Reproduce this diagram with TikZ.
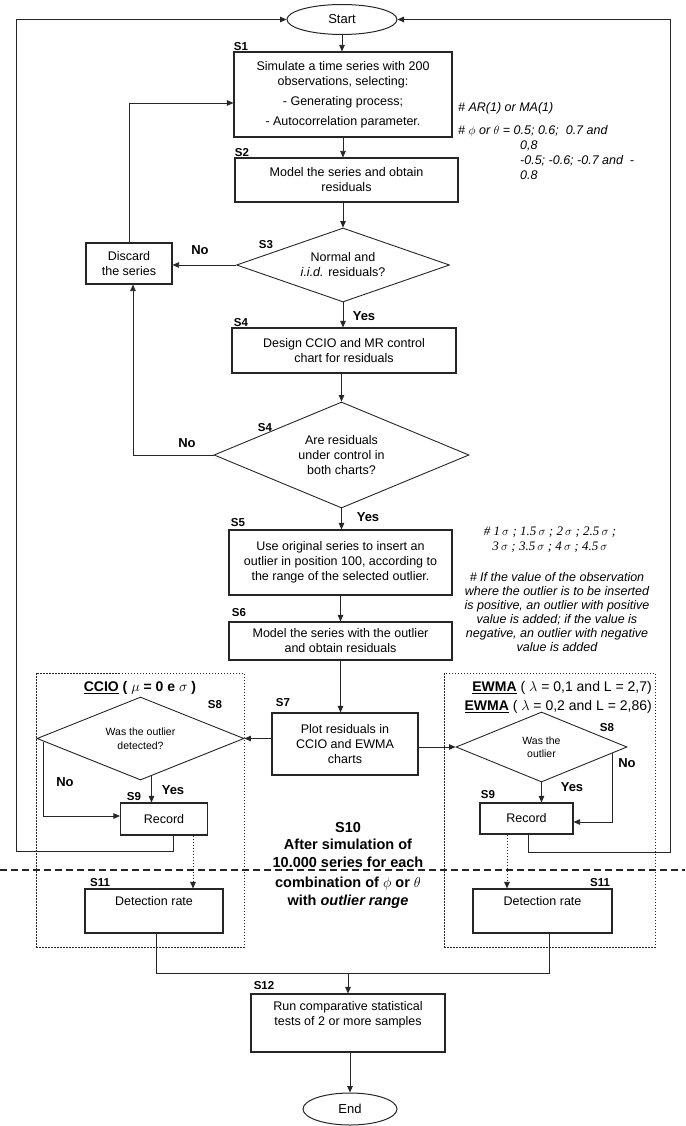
\documentclass[tikz,border=0pt]{standalone}
\usepackage{fontspec}
\setmainfont{Liberation Sans}
\newfontfamily\serifit{Liberation Serif}
\usetikzlibrary{shapes.geometric,arrows.meta}

\tikzstyle{stepbox}=[draw=black!85,line width=1.1pt,rectangle,inner sep=0pt,align=center,font=\fontsize{12.5}{15}\selectfont]
\tikzstyle{decision}=[draw=black!85,line width=0.9pt,diamond,inner sep=0pt,align=center,font=\fontsize{12.5}{15}\selectfont]
\tikzstyle{smalldecision}=[decision,font=\fontsize{10.5}{13.5}\selectfont]
\tikzstyle{terminal}=[draw=black!85,line width=1pt,ellipse,inner sep=0pt,font=\fontsize{13}{15}\selectfont]
\tikzstyle{slabel}=[inner sep=0pt,font=\bfseries\fontsize{11.5}{13}\selectfont]
\tikzstyle{answer}=[inner sep=0pt,font=\bfseries\fontsize{13}{15}\selectfont]
\tikzstyle{note}=[inner sep=0pt,align=left,font=\itshape\fontsize{12.5}{15}\selectfont]
\tikzstyle{heading}=[inner sep=0pt,align=right,font=\fontsize{14}{19}\selectfont]
\tikzstyle{loopnote}=[inner sep=0pt,align=center,font=\bfseries\fontsize{14.5}{17.5}\selectfont]
\tikzstyle{conn}=[draw=black!85,line width=0.8pt]
\tikzstyle{arr}=[conn,-{Triangle[length=6.5pt,width=5.5pt]}]
\tikzstyle{dotarr}=[arr,line width=1pt,dash pattern=on 1.5pt off 1.5pt]
\tikzstyle{dotbox}=[draw=black!85,line width=1pt,dash pattern=on 1.5pt off 1.5pt,rectangle,inner sep=0pt]
\tikzstyle{sepline}=[draw=black!85,line width=1.6pt,dash pattern=on 7pt off 4pt]

\begin{document}
\begin{tikzpicture}[x=1pt,y=-1pt]
\useasboundingbox (0,0) rectangle (685,1126);

% main column
\node[terminal, minimum width=110pt, minimum height=30pt] (start) at (342,19.5) {Start};
\node[stepbox, minimum width=218pt, minimum height=85pt] (s1) at (343,94.5) {Simulate a time series with 200\\observations, selecting:\\[5pt]- Generating process;\\[5pt]- Autocorrelation parameter.};
\node[stepbox, minimum width=223pt, minimum height=44pt] (s2) at (346.5,180) {Model the series and obtain\\residuals};
\node[decision, minimum width=213pt, minimum height=74pt, shape aspect=2.88] (d3) at (343,265) {Normal and\\\textit{i.i.d.} residuals?};
\node[stepbox, minimum width=86pt, minimum height=41pt] (disc) at (129,263.5) {Discard\\the series};
\node[stepbox, minimum width=224pt, minimum height=45pt] (s4) at (344,350.5) {Design CCIO and MR control\\chart for residuals};
\node[decision, minimum width=255pt, minimum height=106pt, shape aspect=2.4] (d4) at (341.5,455) {Are residuals\\under control in\\both charts?};
\node[stepbox, minimum width=223pt, minimum height=65pt] (s5) at (340.5,562.5) {Use original series to insert an\\outlier in position 100, according to\\the range of the selected outlier.};
\node[stepbox, minimum width=223pt, minimum height=38pt] (s6) at (340.5,641) {Model the series with the outlier\\and obtain residuals};
\node[stepbox, minimum width=146pt, minimum height=62pt] (s7) at (345,744) {Plot residuals in\\CCIO and EWMA\\charts};

% the two charts
\node[dotbox, minimum width=208pt, minimum height=274pt] (grpl) at (140,810) {};
\node[dotbox, minimum width=211pt, minimum height=274pt] (grpr) at (549.5,810) {};
\node[heading, align=center, font=\bfseries\fontsize{14}{19}\selectfont] (ccio) at (140,688) {\underline{CCIO} ( $\mu$ = 0 e $\sigma$ )};
\node[heading, anchor=east] (ewma) at (652,697.5) {\underline{\textbf{EWMA}} ( $\lambda$ = 0,1 and L = 2,7)\\\underline{\textbf{EWMA}} ( $\lambda$ = 0,2 and L = 2,86)};
\node[smalldecision, minimum width=207pt, minimum height=83pt, shape aspect=2.5] (d8l) at (140.5,738.5) {Was the outlier\\detected?};
\node[smalldecision, minimum width=171pt, minimum height=70pt, shape aspect=2.44] (d8r) at (541.5,747) {Was the\\outlier};
\node[stepbox, minimum width=87pt, minimum height=32pt] (recl) at (164,819) {Record};
\node[stepbox, minimum width=93pt, minimum height=31pt] (recr) at (526.5,818.5) {Record};
\node[stepbox, minimum width=138pt, minimum height=44pt] (s11l) at (154,911) {Detection rate\\\strut};
\node[stepbox, minimum width=139pt, minimum height=44pt] (s11r) at (542.5,911) {Detection rate\\\strut};
\node[stepbox, minimum width=194pt, minimum height=58pt] (s12) at (348,1023) {Run comparative statistical\\tests of 2 or more samples\\\strut};
\node[terminal, minimum width=94pt, minimum height=32pt] (endn) at (350,1109) {End};

% step labels
\node[slabel] (l1) at (241,47) {S1};
\node[slabel] (l2) at (242,153) {S2};
\node[slabel] (l3) at (266,245) {S3};
\node[slabel] (l4a) at (241,323) {S4};
\node[slabel] (l4b) at (265,428) {S4};
\node[slabel] (l5) at (238,523) {S5};
\node[slabel] (l6) at (239,613) {S6};
\node[slabel] (l7) at (283,703) {S7};
\node[slabel] (l8l) at (215,705) {S8};
\node[slabel] (l8r) at (607,728) {S8};
\node[slabel] (l9l) at (134,797) {S9};
\node[slabel] (l9r) at (488,795) {S9};
\node[slabel] (l11l) at (100,883) {S11};
\node[slabel] (l11r) at (600,883) {S11};
\node[slabel] (l12) at (264,986) {S12};

% answers
\node[answer] (no3) at (200,250) {No};
\node[answer] (yes3) at (364,316) {Yes};
\node[answer] (no4) at (187,443) {No};
\node[answer] (yes4) at (368,517) {Yes};
\node[answer] (no8l) at (65,782) {No};
\node[answer] (yes8l) at (173,790) {Yes};
\node[answer] (no8r) at (627,763) {No};
\node[answer] (yes8r) at (572,787) {Yes};

% notes
\node[note, anchor=west] (ar) at (458,108) {\# AR(1) or MA(1)};
\node[note, anchor=north west] (par) at (458,125) {\# $\phi$ or $\theta$ = 0.5; 0.6;\ \ 0.7 and\\\hspace*{62pt}0,8\\\hspace*{62pt}-0.5; -0.6; -0.7 and\ \ -\\\hspace*{62pt}0.8};
\node[note, align=center, font=\serifit\itshape\fontsize{13}{15}\selectfont] (sig) at (550,539.5) {\# 1\,$\sigma$ ; 1.5\,$\sigma$ ; 2\,$\sigma$ ; 2.5\,$\sigma$ ;\\3\,$\sigma$ ; 3.5\,$\sigma$ ; 4\,$\sigma$ ; 4.5\,$\sigma$};
\node[note, align=center, font=\itshape\fontsize{12.5}{14}\selectfont] (sign) at (557,612) {\# If the value of the observation\\where the outlier is to be inserted\\is positive, an outlier with positive\\value is added; if the value is\\negative, an outlier with negative\\value is added};
\node[loopnote] (s10) at (348,865) {S10\\After simulation of\\10.000 series for each\\[3pt]combination of $\phi$ or $\theta$\\with \textit{outlier range}};

% separator
\coordinate (sepl) at (0,870);
\coordinate (sepr) at (685,870);
\draw[sepline] (sepl) -- (sepr);

% connectors
\draw[arr] (start.south) -- (start.south |- s1.north);
\draw[arr] (s1.south) -- (s1.south |- s2.north);
\draw[arr] (s2.south -| d3.north) -- (d3.north);
\draw[arr] (d3.west) -- (d3.west -| disc.east);
\draw[arr] (disc.north) |- ([yshift=-8.5pt]s1.west);
\draw[arr] (d3.south) -- (d3.south |- s4.north);
\draw[arr] (s4.south -| d4.north) -- (d4.north);
\draw[arr] (d4.west) -| ([xshift=4pt]disc.south);
\draw[arr] (d4.south) -- (d4.south |- s5.north);
\draw[arr] (s5.south) -- (s5.south |- s6.north);
\draw[arr] (s6.south) -- (s6.south |- s7.north);
\draw[arr] (s7.west |- d8l.east) -- (d8l.east);
\draw[arr] (s7.east |- d8r.west) -- (d8r.west);
\draw[arr] ([xshift=7pt,yshift=-3pt]d8l.west) |- ([yshift=3pt]recl.west);
\draw[arr] ([xshift=11pt,yshift=4.4pt]d8l.south) -- ([xshift=11pt]d8l.south |- recl.north);
\draw[arr] ([xshift=-15pt,yshift=-6pt]d8r.east) |- ([yshift=-3.5pt]recr.east);
\draw[arr] (d8r.south) -- (d8r.south |- recr.north);
\draw[dotarr] ([xshift=29pt]recl.south) -- ([xshift=29pt]recl.south |- s11l.north);
\draw[dotarr] ([xshift=-19.5pt]recr.south) -- ([xshift=-19.5pt]recr.south |- s11r.north);
\coordinate (backl) at (16,851);
\coordinate (backr) at (670,852);
\draw[arr] ([xshift=9pt]recl.south) |- (backl) |- (start.west);
\draw[arr] ([xshift=1.5pt]recr.south) |- (backr) |- (start.east);
\coordinate (mg) at (348,973);
\draw[conn] ([xshift=2pt]s11l.south) |- (mg) -| ([xshift=6.5pt]s11r.south);
\draw[arr] (mg) -- (s12.north);
\draw[arr] (s12.south -| endn.north) -- (endn.north);
\end{tikzpicture}
\end{document}
